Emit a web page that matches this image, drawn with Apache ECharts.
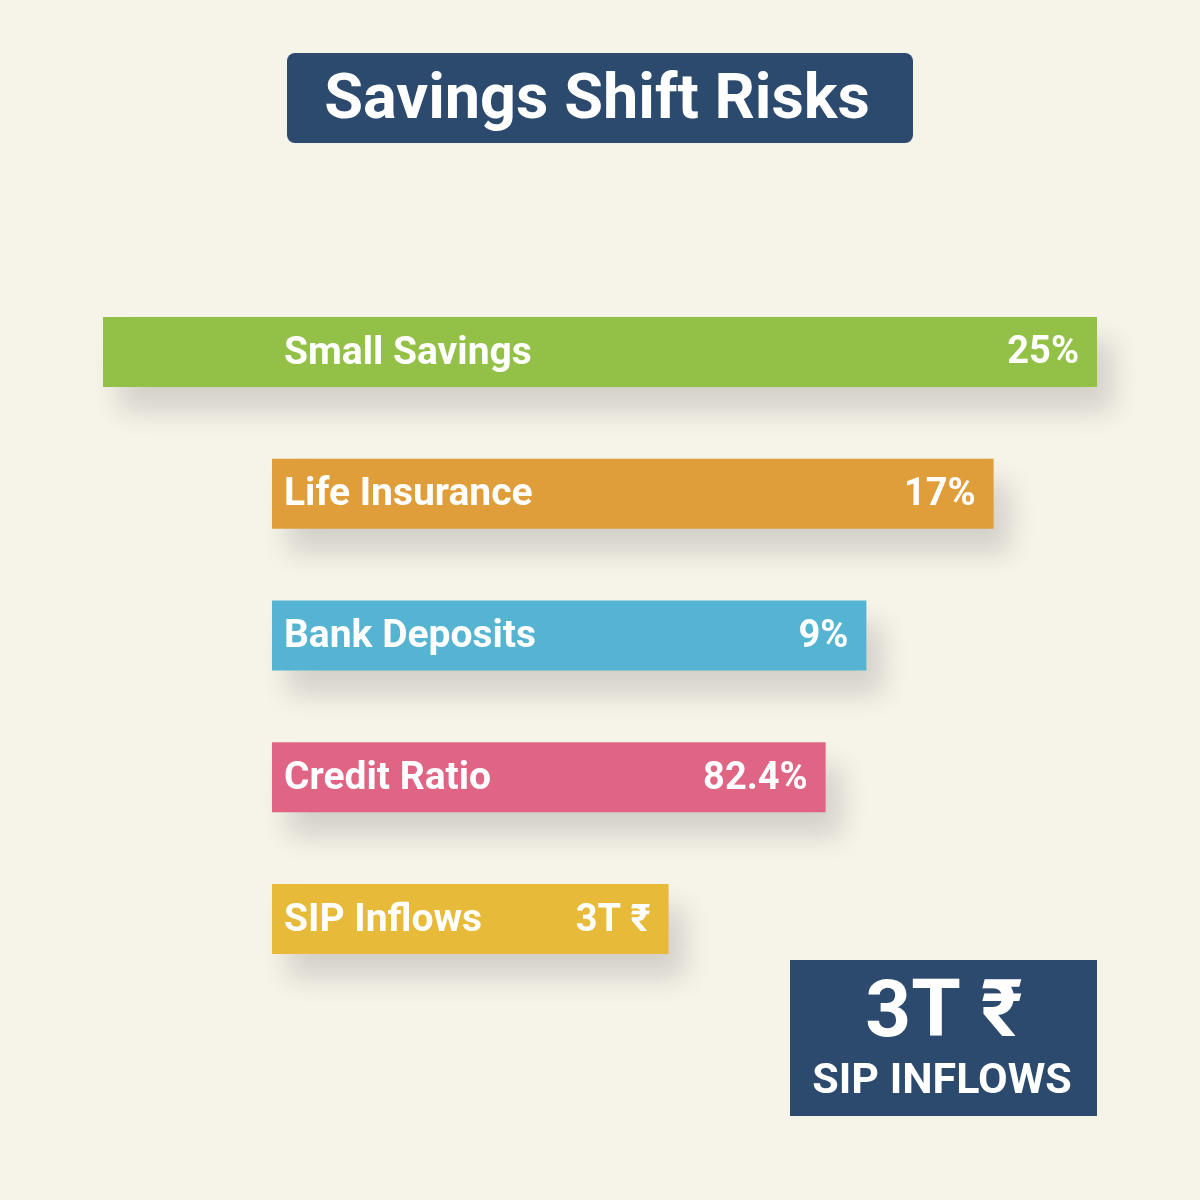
<!DOCTYPE html>
<html>
<head>
<meta charset="utf-8">
<script src="https://cdn.jsdelivr.net/npm/echarts@6/dist/echarts.min.js"></script>
<style>
  html, body { margin: 0; padding: 0; background: #f6f3e9; }
  #main { width: 1200px; height: 1200px; }
</style>
</head>
<body>
<div id="main"></div>
<script>
  // categories and shown values
  var categories = ['Small Savings', 'Life Insurance', 'Bank Deposits', 'Credit Ratio', 'SIP Inflows'];
  var valueLabels = ['25%', '17%', '9%', '82.4%', '3T ₹'];
  // bar extents on a 0-100 scale
  var barStart = [0, 17, 17, 17, 17];
  var barEnd = [100, 89.6, 76.8, 72.7, 56.9];
  var barColors = ['#93c047', '#e09e3a', '#56b4d3', '#e06585', '#e8ba3a'];
  var labelStart = 17;

  var FONT = 'Roboto, "Noto Sans", "DejaVu Sans", sans-serif';

  var data = [];
  for (var i = 0; i < categories.length; i++) {
    data.push([i, barStart[i], barEnd[i]]);
  }

  var chart = echarts.init(document.getElementById('main'));

  chart.setOption({
    backgroundColor: '#f6f3e9',
    animation: false,
    grid: { left: 103, right: 103, top: 281, bottom: 210 },
    xAxis: { type: 'value', min: 0, max: 100, show: false },
    yAxis: { type: 'category', data: categories, inverse: true, show: false },
    graphic: [
      {
        type: 'rect',
        shape: { x: 287, y: 53, width: 626, height: 90, r: 8 },
        style: { fill: '#2b4a6d' }
      },
      {
        type: 'text',
        x: 597, y: 102,
        style: {
          text: 'Savings Shift Risks', fill: '#ffffff',
          font: 'bold 63px ' + FONT, textAlign: 'center', textVerticalAlign: 'middle'
        }
      },
      {
        type: 'rect',
        shape: { x: 790, y: 960, width: 307, height: 156 },
        style: { fill: '#2b4a6d' }
      },
      {
        type: 'text',
        x: 944, y: 1016,
        style: {
          text: valueLabels[4], fill: '#ffffff',
          font: 'bold 80px ' + FONT, textAlign: 'center', textVerticalAlign: 'middle'
        }
      },
      {
        type: 'text',
        x: 942, y: 1082,
        style: {
          text: categories[4].toUpperCase(), fill: '#ffffff',
          font: 'bold 43px ' + FONT, textAlign: 'center', textVerticalAlign: 'middle'
        }
      }
    ],
    series: [{
      type: 'custom',
      data: data,
      renderItem: function (params, api) {
        var idx = api.value(0);
        var p0 = api.coord([api.value(1), idx]);
        var p1 = api.coord([api.value(2), idx]);
        var h = 70;
        var lx = api.coord([labelStart, idx])[0] + 12;
        return {
          type: 'group',
          children: [
            {
              type: 'rect',
              shape: { x: p0[0], y: p0[1] - h / 2, width: p1[0] - p0[0], height: h },
              style: {
                fill: barColors[idx],
                shadowBlur: 28, shadowOffsetX: 16, shadowOffsetY: 24,
                shadowColor: 'rgba(0,0,0,0.14)'
              }
            },
            {
              type: 'text',
              x: lx, y: p0[1] + 2,
              style: {
                text: categories[idx], fill: '#ffffff',
                font: 'bold 39px ' + FONT, textAlign: 'left', textVerticalAlign: 'middle'
              }
            },
            {
              type: 'text',
              x: p1[0] - 18, y: p0[1] + 2,
              style: {
                text: valueLabels[idx], fill: '#ffffff',
                font: 'bold 38px ' + FONT, textAlign: 'right', textVerticalAlign: 'middle'
              }
            }
          ]
        };
      }
    }]
  });
</script>
</body>
</html>
